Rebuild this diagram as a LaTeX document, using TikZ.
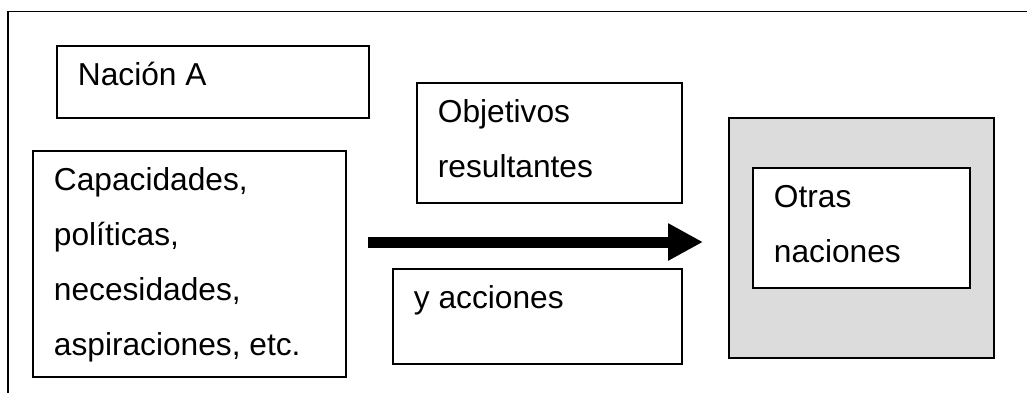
\documentclass[tikz,border=0pt]{standalone}
\usepackage{fontspec}
\setmainfont{Liberation Sans}
\usetikzlibrary{arrows.meta}
\newcommand{\caja}[3]{\parbox[c][#2pt][t]{#1pt}{\baselineskip=55pt\leftskip=21pt\rule{0pt}{40pt}#3}}

\begin{document}
\begin{tikzpicture}[x=1pt,y=-1pt,font=\fontsize{31.7}{55}\selectfont]
        \tikzstyle{marco}=[draw,line width=1.8pt,anchor=north west,inner sep=0pt]
        \tikzstyle{gris}=[marco,fill={rgb,255:red,220;green,220;blue,220}]

        \useasboundingbox (0,0) rectangle (1027,392);
        \clip (0,0) rectangle (1027,392);
        \draw[line width=1.8pt] (8,400) -- (8,11.5) -- (1040,11.5); % marco

        \node[marco]  (nacion)      at (56,45)   {\caja{312}{72}{Nación A}};
        \node[marco]  (capacidades) at (32,150)  {\caja{313}{226}{Capacidades,\\políticas,\\necesidades,\\aspiraciones, etc.}};
        \node[marco]  (objetivos)   at (416,82)  {\caja{265}{120}{Objetivos\\resultantes}};
        \node[marco]  (acciones)    at (392,268) {\caja{289}{95}{y acciones}};
        \node[gris,minimum width=265pt,minimum height=240pt] (otras) at (728,117) {};
        \node[marco,fill=white] (naciones) at (752,167) {\caja{217}{120}{Otras\\naciones}};

        \coordinate (ini) at (368,242);
        \coordinate (fin) at (703,242);
        \draw[line width=11pt,-{Triangle[length=35pt,width=35pt]}] (ini) -- (fin);
\end{tikzpicture}
\end{document}
